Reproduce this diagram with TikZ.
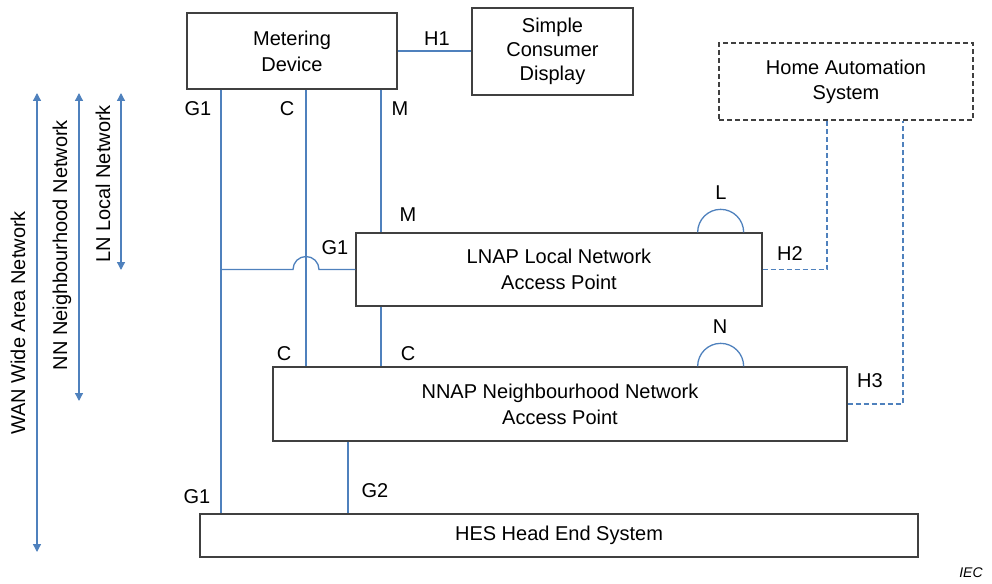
\documentclass[tikz,border=0pt]{standalone}
\usepackage{fontspec}
\setmainfont{Liberation Sans}
\usetikzlibrary{arrows.meta}
\definecolor{lnblue}{RGB}{79,129,189}
\definecolor{boxgray}{RGB}{64,64,64}
\begin{document}
\begin{tikzpicture}[x=1pt,y=-1pt,
  font=\fontsize{20}{26}\selectfont,
  box/.style={draw=boxgray,line width=1.3pt,rectangle,inner sep=0pt,align=center},
  dbox/.style={box,dash pattern=on 5pt off 3pt},
  link/.style={draw=lnblue,line width=1.3pt},
  dlink/.style={link,dash pattern=on 5pt off 3pt},
  span/.style={link,{Triangle[length=8pt,width=8pt]}-{Triangle[length=8pt,width=8pt]}},
  lab/.style={inner sep=0pt,anchor=center},
  rlab/.style={inner sep=0pt,anchor=base,rotate=90}]
\useasboundingbox (0,0) rectangle (992,583);
% boxes
\node[box,minimum width=210pt,minimum height=76pt] (md) at (292,51) {Metering\\Device};
\node[box,minimum width=161pt,minimum height=87pt,font=\fontsize{20}{24}\selectfont] (scd) at (552.5,51.5) {Simple\\Consumer\\Display};
\node[dbox,minimum width=254pt,minimum height=77pt,font=\fontsize{20}{25}\selectfont] (ha) at (846,81.5) {Home Automation\\System};
\node[box,minimum width=406pt,minimum height=73pt,font=\fontsize{20}{26}\selectfont] (lnap) at (559,269.5) {LNAP Local Network\\Access Point};
\node[box,minimum width=574pt,minimum height=74pt,font=\fontsize{20}{26}\selectfont] (nnap) at (560,404) {NNAP Neighbourhood Network\\Access Point};
\node[box,minimum width=718pt,minimum height=43pt] (hes) at (559,535.5) {HES Head End System};
% x positions
\coordinate (xg1) at (221,0);
\coordinate (xc) at (306,0);
\coordinate (xm) at (381,0);
\coordinate (xg2) at (348,0);
\coordinate (xh2) at (827,0);
\coordinate (xh3) at (903,0);
% connectors
\draw[link] (md.east) -- (md.east -| scd.west);
\draw[link] (md.south -| xg1) -- (hes.north -| xg1);
\draw[link] (md.south -| xc) -- (nnap.north -| xc);
\draw[link] (md.south -| xm) -- (lnap.north -| xm);
\draw[link] (lnap.south -| xm) -- (nnap.north -| xm);
\draw[link] (nnap.south -| xg2) -- (hes.north -| xg2);
\draw[link] (lnap.west -| xg1) -- ([xshift=-13pt]lnap.west -| xc) arc (180:360:13) -- (lnap.west);
\draw[dlink] (lnap.east) -| (xh2 |- ha.south);
\draw[dlink] (nnap.east) -| (xh3 |- ha.south);
\draw[link] ([xshift=-65pt]lnap.north east) arc (180:360:23);
\draw[link] ([xshift=-150pt]nnap.north east) arc (180:360:23);
% span arrows
\coordinate (wan1) at (37,93); \coordinate (wan2) at (37,552);
\coordinate (nn1) at (79,93); \coordinate (nn2) at (79,401);
\coordinate (ln1) at (121,93); \coordinate (ln2) at (121,270);
\draw[span] (wan1) -- (wan2);
\draw[span] (nn1) -- (nn2);
\draw[span] (ln1) -- (ln2);
\node[rlab] (twan) at (25,323) {WAN Wide Area Network};
\node[rlab] (tnn) at (67,245) {NN Neighbourhood Network};
\node[rlab] (tln) at (110,184) {LN Local Network};
% labels
\node[lab] (lg1a) at (198,109) {G1};
\node[lab] (lca) at (287,109) {C};
\node[lab] (lma) at (400,109) {M};
\node[lab] (lh1) at (437,39) {H1};
\node[lab] (lmb) at (408,215) {M};
\node[lab] (lg1b) at (335,248) {G1};
\node[lab] (ll) at (721,193) {L};
\node[lab] (lh2) at (790,254) {H2};
\node[lab] (ln) at (720,327) {N};
\node[lab] (lcb) at (284,354) {C};
\node[lab] (lcc) at (408,354) {C};
\node[lab] (lh3) at (870,381) {H3};
\node[lab] (lg1c) at (197,497) {G1};
\node[lab] (lg2) at (375,491) {G2};
\node[lab,font=\fontsize{14}{16}\selectfont\itshape] (iec) at (971,573) {IEC};
\end{tikzpicture}
\end{document}
